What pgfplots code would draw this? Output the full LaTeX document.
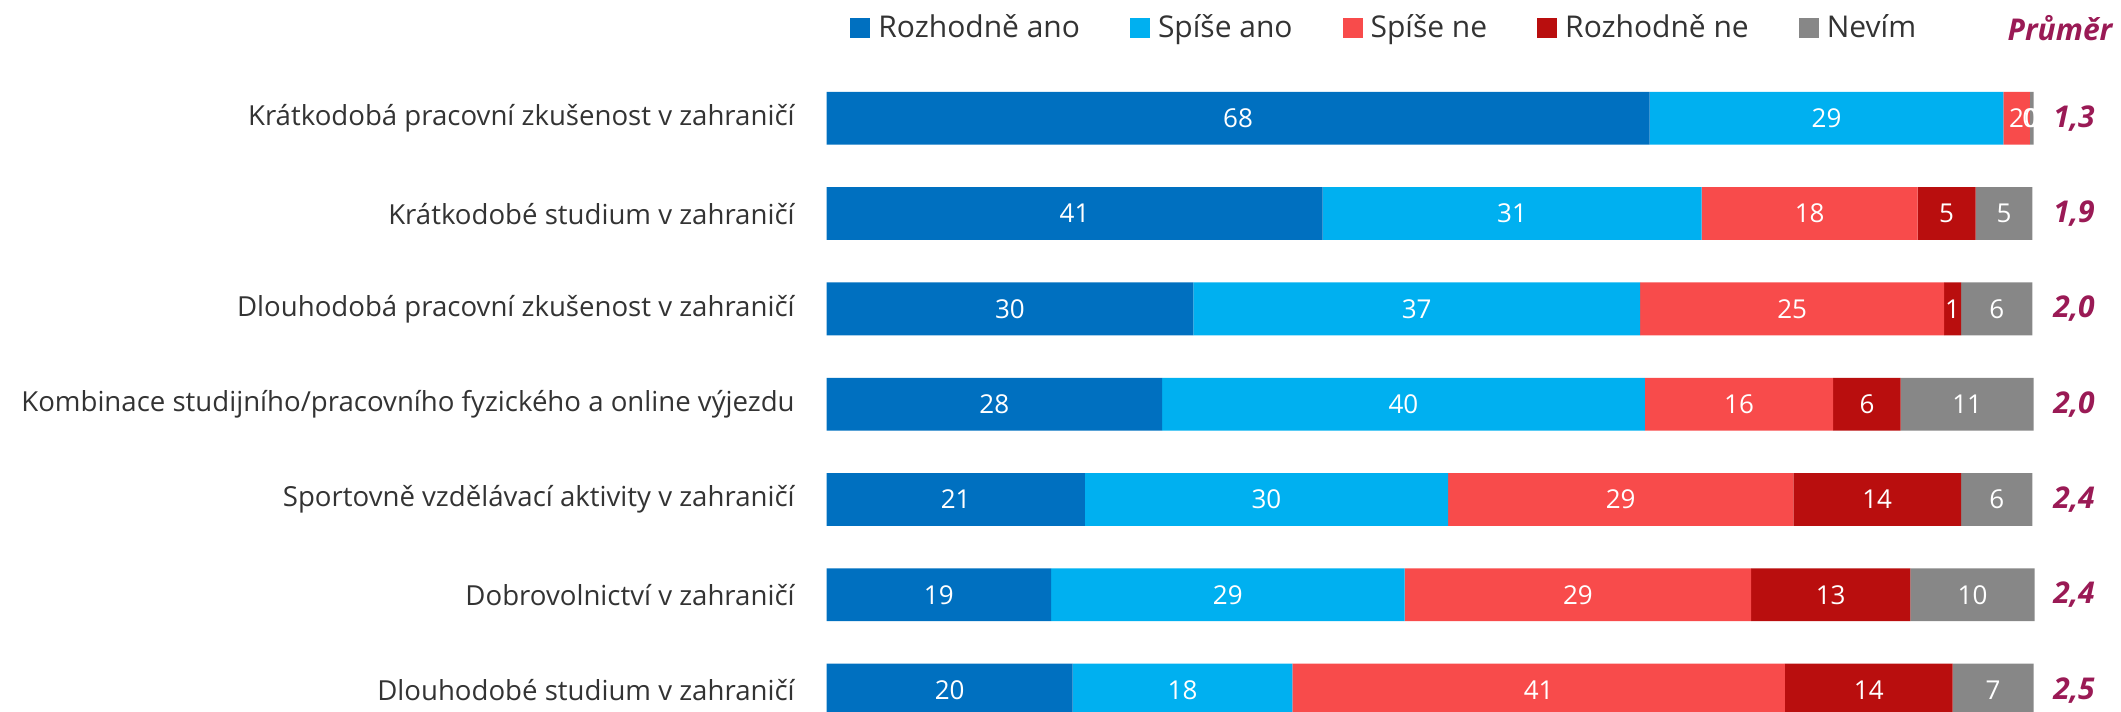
\documentclass[border=0pt]{standalone}
\usepackage{pgfplots}
\pgfplotsset{compat=1.18}
\usepackage{pgfplotstable}
\usepackage{fontspec}
\setmainfont{Open Sans}
\definecolor{c1}{HTML}{0070C0}
\definecolor{c2}{HTML}{00B0F0}
\definecolor{c3}{HTML}{F84B4B}
\definecolor{c4}{HTML}{B90E0E}
\definecolor{c5}{HTML}{878787}
\definecolor{avg}{HTML}{9A1A55}
\definecolor{txt}{HTML}{333333}

\pgfplotstableread{
y  a    b    c    d    e
1  68.2 29.3 2.2  0.0  0.3
2  41.1 31.4 17.9 4.8  4.7
3  30.4 37.0 25.2 1.4  5.9
4  27.8 40.0 15.6 5.6  11.0
5  21.4 30.1 28.6 13.9 5.9
6  18.6 29.3 28.7 13.2 10.3
7  20.4 18.2 40.8 13.9 6.7
}\data

\newcommand{\catfont}{\fontsize{13.8}{16}\selectfont}
\newcommand{\legfont}{\fontsize{15}{17}\selectfont}
\newcommand{\numfont}{\fontsize{13}{15}\selectfont}
\tikzset{avgnode/.style={font=\legfont\bfseries\itshape, text=avg, anchor=center, xshift=20.25pt}}
\pgfplotsset{common/.style={
  at={(413.25pt,0pt)}, anchor=south west,
  scale only axis, width=603.5pt, height=330.2pt,
  xmin=0, xmax=100, ymin=0.3, ymax=7.23, y dir=reverse, clip=false}}

\begin{document}
\begin{tikzpicture}
\path[use as bounding box, clip] (0,0) rectangle (1060.5pt,356pt);
\begin{axis}[common,
  xbar stacked, bar width=26.4pt,
  axis line style={draw=none}, tick style={draw=none},
  xtick=\empty, ytick={1,...,7},
  yticklabels={Krátkodobá pracovní zkušenost v zahraničí,
    Krátkodobé studium v zahraničí,
    Dlouhodobá pracovní zkušenost v zahraničí,
    Kombinace studijního/pracovního fyzického a online výjezdu,
    Sportovně vzdělávací aktivity v zahraničí,
    Dobrovolnictví v zahraničí,
    Dlouhodobé studium v zahraničí},
  yticklabel style={font=\catfont, text=txt, inner sep=0pt, xshift=-15.75pt},
  legend style={at={(0.0195,1.0357)}, anchor=west, draw=none, fill=none,
    inner sep=0pt, font=\legfont, text=txt,
    /tikz/every even column/.append style={column sep=23pt}},
  legend columns=-1,
  legend image code/.code={\fill[#1] (0pt,-5pt) rectangle (10pt,5pt);},
]
\addplot[fill=c1, draw=none] table[x=a, y=y] {\data};
\addplot[fill=c2, draw=none] table[x=b, y=y] {\data};
\addplot[fill=c3, draw=none] table[x=c, y=y] {\data};
\addplot[fill=c4, draw=none] table[x=d, y=y] {\data};
\addplot[fill=c5, draw=none] table[x=e, y=y] {\data};
\legend{\hspace{2pt}Rozhodně ano, \hspace{2pt}Spíše ano, \hspace{2pt}Spíše ne, \hspace{2pt}Rozhodně ne, \hspace{2pt}Nevím}
\end{axis}
\begin{axis}[common, hide axis,
  nodes near coords,
  nodes near coords style={font=\numfont, text=white, anchor=center},
  /pgf/number format/fixed, /pgf/number format/precision=0,
  /pgf/number format/assume math mode=true,
]
\addplot[draw=none, mark=none, point meta=explicit] table[x expr=\thisrow{a}/2, y=y, meta=a] {\data};
\addplot[draw=none, mark=none, point meta=explicit] table[x expr=\thisrow{a}+\thisrow{b}/2, y=y, meta=b] {\data};
\addplot[draw=none, mark=none, point meta=explicit] table[x expr=\thisrow{a}+\thisrow{b}+\thisrow{c}/2, y=y, meta=c] {\data};
\addplot[draw=none, mark=none, point meta=explicit] table[x expr=\thisrow{a}+\thisrow{b}+\thisrow{c}+\thisrow{d}/2, y=y, meta=d] {\data};
\addplot[draw=none, mark=none, point meta=explicit] table[x expr=\thisrow{a}+\thisrow{b}+\thisrow{c}+\thisrow{d}+\thisrow{e}/2, y=y, meta=e] {\data};
\node[avgnode] at (axis cs:100,1) {1,3};
\node[avgnode] at (axis cs:100,2) {1,9};
\node[avgnode] at (axis cs:100,3) {2,0};
\node[avgnode] at (axis cs:100,4) {2,0};
\node[avgnode] at (axis cs:100,5) {2,4};
\node[avgnode] at (axis cs:100,6) {2,4};
\node[avgnode] at (axis cs:100,7) {2,5};
\end{axis}
\node[font=\legfont\bfseries\itshape, text=avg, anchor=center] at (1030pt,342pt) {Průměr};
\end{tikzpicture}
\end{document}
